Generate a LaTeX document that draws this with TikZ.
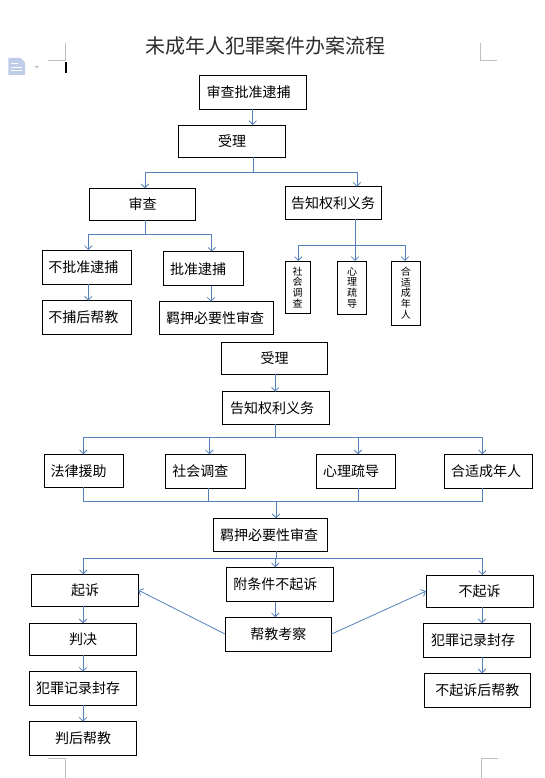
\documentclass[tikz,border=0pt]{standalone}
\usepackage{fontspec}
\newfontfamily\cjk{Noto Sans CJK SC}
\usetikzlibrary{arrows.meta,calc}
\definecolor{lineblue}{RGB}{84,128,185}
\definecolor{markgray}{RGB}{190,190,190}
\definecolor{titlegray}{RGB}{45,45,45}
\definecolor{iconblue}{RGB}{190,205,232}
\tikzset{
  box/.style={draw, line width=0.9pt, anchor=north west, inner sep=0pt, outer sep=0pt,
    font=\cjk\fontsize{14}{16}\selectfont},
  cbox/.style 2 args={box, minimum width=#1, minimum height=#2},
  lbox/.style n args={3}{box, text width=#1, inner xsep=#3, minimum height=#2, align=left},
  vbox/.style 2 args={box, minimum width=#1, minimum height=#2, align=center,
    font=\cjk\fontsize{10}{10.6}\selectfont},
  ln/.style={draw=lineblue, line width=0.8pt},
  arr/.style={ln, -{Straight Barb[length=3.8pt,width=7.5pt]}},
  pagemark/.style={draw=markgray, line width=0.7pt}
}
\begin{document}
\begin{tikzpicture}[x=1pt,y=-1pt]
\useasboundingbox (0,0) rectangle (544,778);
\fill[white] (0,0) rectangle (544,778);

% page marks and UI artefacts
\draw[pagemark] (65.7,43) -- (65.7,60) -- (48,60);
\draw[pagemark] (480,43) -- (480,60) -- (496.7,60);
\draw[pagemark] (48.3,758.3) -- (65.3,758.3) -- (65.3,778);
\draw[pagemark] (498,758.3) -- (481,758.3) -- (481,778);
\fill[black] (65,61.7) rectangle (67,73.3);
\fill[iconblue] (8.3,58) -- (20.5,58) -- (25,62.5) -- (25,75) -- (8.3,75) -- cycle;
\draw[white, line width=0.9pt] (11,63.5) -- (18,63.5) (11,67) -- (22,67) (11,70.5) -- (22,70.5);
\fill[markgray] (34.5,65.8) -- (39,65.8) -- (36.75,68.3) -- cycle;

% title
\node[font=\cjk\fontsize{20}{22}\selectfont, text=titlegray, inner sep=0pt] (title) at (265,46) {未成年人犯罪案件办案流程};

% ---------- top section ----------
\node[lbox={92.3pt}{33.6pt}{7.7pt}] (sp) at (199,75.7) {审查批准逮捕};
\node[cbox={107.4pt}{32.3pt}] (sl1) at (178.3,125) {受理};
\node[cbox={106.4pt}{31.7pt}] (sc) at (89.3,188.3) {审查};
\node[cbox={96pt}{32.6pt}] (gz1) at (285,186.7) {告知权利义务};
\node[lbox={77.1pt}{34.3pt}{5.6pt}] (bpz) at (42.7,250) {不批准逮捕};
\node[lbox={66.6pt}{34pt}{6.7pt}] (pz) at (163.3,251.7) {批准逮捕};
\node[lbox={77.1pt}{33.6pt}{5.6pt}] (bbh) at (42.7,300.7) {不捕后帮教};
\node[lbox={100.6pt}{32.6pt}{6.7pt}] (jy1) at (159.3,301.7) {羁押必要性审查};
\node[vbox={25pt}{52.3pt}] (v1) at (285,261) {社\\会\\调\\查};
\node[vbox={29pt}{53.3pt}] (v2) at (337.7,261) {心\\理\\疏\\导};
\node[vbox={28.3pt}{64pt}] (v3) at (391.7,261) {合\\适\\成\\年\\人};

\coordinate (a1) at (252.7,0);
\draw[arr] (sp.south -| a1) -- (sl1.north -| a1);
\coordinate (b0) at (253.3,172);
\coordinate (bL) at (145,172);
\coordinate (bR) at (357,172);
\draw[ln] (sl1.south -| b0) -- (b0);
\draw[ln] (bL) -- (bR);
\draw[arr] (bL) -- (sc.north -| bL);
\draw[arr] (bR) -- (gz1.north -| bR);

\coordinate (c0) at (145,234);
\coordinate (cL) at (88.3,234);
\coordinate (cR) at (211.7,234);
\draw[ln] (sc.south -| c0) -- (c0);
\draw[ln] (cL) -- (cR);
\draw[arr] (cL) -- (bpz.north -| cL);
\draw[arr] (cR) -- (pz.north -| cR);
\draw[arr] (bpz.south -| cL) -- (bbh.north -| cL);
\coordinate (c2) at (211,0);
\draw[arr] (pz.south -| c2) -- (jy1.north -| c2);

\coordinate (d0) at (355,245);
\coordinate (dL) at (298.3,245);
\coordinate (dR) at (405,245);
\draw[ln] (gz1.south -| d0) -- (d0);
\draw[ln] (dL) -- (dR);
\draw[arr] (dL) -- (v1.north -| dL);
\draw[arr] (d0) -- (v2.north -| d0);
\draw[arr] (dR) -- (v3.north -| dR);

% ---------- middle section ----------
\node[cbox={106pt}{31.6pt}] (sl2) at (221.7,342.7) {受理};
\node[lbox={91.6pt}{32.6pt}{7.7pt}] (gz2) at (222.3,391.7) {告知权利义务};
\node[lbox={66.2pt}{33pt}{6.4pt}] (fl) at (44.3,454.3) {法律援助};
\node[lbox={66.8pt}{33.7pt}{6.6pt}] (sh) at (165.7,454.3) {社会调查};
\node[lbox={65.6pt}{34pt}{6.7pt}] (xl) at (316.3,454.3) {心理疏导};
\node[lbox={75pt}{34pt}{6.7pt}] (hs) at (444.3,454.3) {合适成年人};
\node[lbox={101pt}{32.7pt}{6.7pt}] (jy2) at (213.3,518.3) {羁押必要性审查};

\coordinate (e0) at (275.3,0);
\draw[arr] (sl2.south -| e0) -- (gz2.north -| e0);
\coordinate (f0) at (275.3,437.3);
\coordinate (fL) at (83.3,437.3);
\coordinate (f2) at (209.3,437.3);
\coordinate (f3) at (358,437.3);
\coordinate (fR) at (482.3,437.3);
\draw[ln] (gz2.south -| f0) -- (f0);
\draw[ln] (fL) -- (fR);
\draw[arr] (fL) -- (fl.north -| fL);
\draw[arr] (f2) -- (sh.north -| f2);
\draw[arr] (f3) -- (xl.north -| f3);
\draw[arr] (fR) -- (hs.north -| fR);

\coordinate (g1) at (83.3,501.7);
\coordinate (g2) at (208.7,501.7);
\coordinate (g3) at (358,501.7);
\coordinate (g4) at (482.3,501.7);
\coordinate (g0) at (276,501.7);
\draw[ln] (fl.south -| g1) -- (g1);
\draw[ln] (sh.south -| g2) -- (g2);
\draw[ln] (xl.south -| g3) -- (g3);
\draw[ln] (hs.south -| g4) -- (g4);
\draw[ln] (g1) -- (g4);
\draw[arr] (g0) -- (jy2.north -| g0);

% ---------- bottom section ----------
\node[cbox={106.6pt}{31.7pt}] (qs) at (31.7,574.3) {起诉};
\node[cbox={106.6pt}{32pt}] (pj) at (29.7,623.3) {判决};
\node[lbox={94pt}{33.6pt}{6.3pt}] (fz1) at (29.7,671.7) {犯罪记录封存};
\node[cbox={106.6pt}{33.6pt}] (ph) at (29.7,721.7) {判后帮教};
\node[lbox={93.2pt}{34.4pt}{6.7pt}] (fbq) at (226.7,567.3) {附条件不起诉};
\node[cbox={106pt}{33.7pt}] (bj) at (225.3,617.3) {帮教考察};
\node[cbox={107.3pt}{32.3pt}] (bq) at (426,575) {不起诉};
\node[lbox={92pt}{34pt}{7.3pt}] (fz2) at (423.7,623.3) {犯罪记录封存};
\node[cbox={106pt}{34pt}] (bqh) at (424.3,673.3) {不起诉后帮教};

\coordinate (k0) at (276,558.3);
\coordinate (kL) at (83.3,558.3);
\coordinate (kM) at (275.3,558.3);
\coordinate (kR) at (482.3,558.3);
\draw[ln] (jy2.south -| k0) -- (k0);
\draw[ln] (kL) -- (kR);
\draw[arr] (kL) -- (qs.north -| kL);
\draw[arr] (kM) -- (fbq.north -| kM);
\draw[arr] (kR) -- (bq.north -| kR);

\coordinate (m) at (83,0);
\draw[arr] (qs.south -| m) -- (pj.north -| m);
\draw[arr] (pj.south -| m) -- (fz1.north -| m);
\draw[arr] (fz1.south -| m) -- (ph.north -| m);
\draw[arr] (fbq.south -| e0) -- (bj.north -| e0);
\coordinate (n) at (482,0);
\draw[arr] (bq.south -| n) -- (fz2.north -| n);
\draw[arr] (fz2.south -| n) -- (bqh.north -| n);

\draw[arr] (bj.west) -- (qs.east);
\draw[arr] (bj.east) -- (bq.west);
\end{tikzpicture}
\end{document}
